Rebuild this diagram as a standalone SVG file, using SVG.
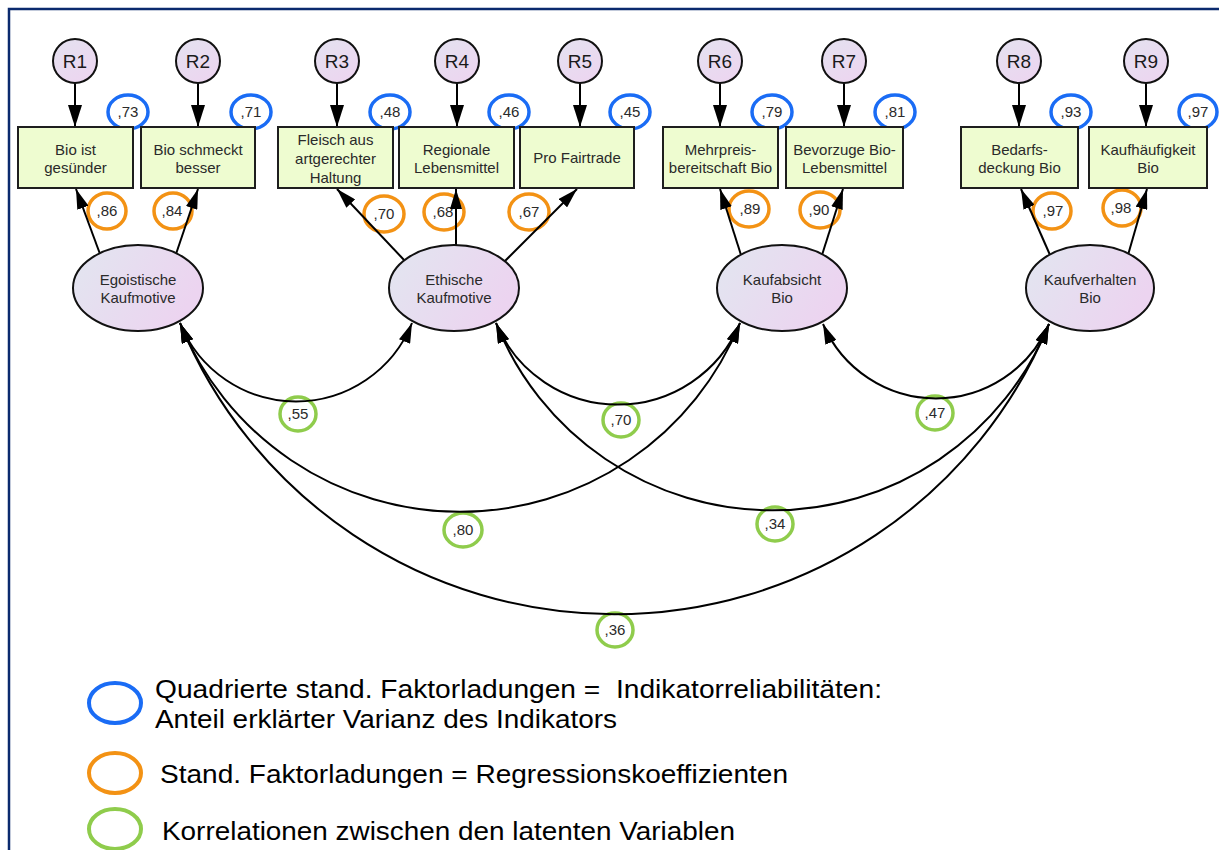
<svg xmlns="http://www.w3.org/2000/svg" width="1219" height="850" viewBox="0 0 1219 850">
  <style>
    .box { fill: #eefcd0; stroke: #1e1e1e; stroke-width: 2; }
    .resid { fill: url(#gResid); stroke: #111; stroke-width: 2; }
    .latent { fill: url(#gLatent); stroke: #111; stroke-width: 2; }
    .lbl { font-family: "Liberation Sans", Arial, sans-serif; font-size: 15px; fill: #2a2a2a; text-anchor: middle; }
    .rlbl { font-family: "Liberation Sans", Arial, sans-serif; font-size: 19px; fill: #1a1a1a; text-anchor: middle; }
    .val { font-family: "Liberation Sans", Arial, sans-serif; font-size: 15px; fill: #2a2a2a; text-anchor: middle; }
    .rel { fill: none; stroke: #1a6cf5; stroke-width: 3.5; }
    .load { fill: none; stroke: #f39214; stroke-width: 3.5; }
    .cor { fill: none; stroke: #8fcc4c; stroke-width: 3.5; }
    .edge { fill: none; stroke: #000; stroke-width: 2; }
    .legend { font-family: "Liberation Sans", Arial, sans-serif; font-size: 25px; fill: #000; white-space: pre; }
  </style>
  <defs>
    <linearGradient id="gLatent" x1="0" y1="0" x2="1" y2="0.4">
      <stop offset="0" stop-color="#e2e6f0"/>
      <stop offset="1" stop-color="#ecd4f0"/>
    </linearGradient>
    <linearGradient id="gResid" x1="0" y1="0" x2="0.6" y2="1">
      <stop offset="0" stop-color="#e4e2f0"/>
      <stop offset="1" stop-color="#ecd6f0"/>
    </linearGradient>
    <marker id="ah" viewBox="0 0 20 12" refX="20" refY="6" markerWidth="20" markerHeight="12" orient="auto-start-reverse" markerUnits="userSpaceOnUse">
      <path d="M0,0 L20,6 L0,12 z" fill="#000"/>
    </marker>
    <marker id="ahR" viewBox="0 0 22 14" refX="22" refY="7" markerWidth="22" markerHeight="14" orient="auto" markerUnits="userSpaceOnUse">
      <path d="M0,0 L22,7 L0,14 z" fill="#000"/>
    </marker>
  </defs>

  <rect width="1219" height="850" fill="#fff"/>
  <!-- frame -->
  <path d="M9,850 V9 H1219" fill="none" stroke="#0b2a6e" stroke-width="2.5"/>

  <!-- coefficient rings -->
  <g id="reliabilities">
    <ellipse class="rel" cx="128" cy="112" rx="20" ry="17"/><text class="val" x="128" y="117">,73</text>
    <ellipse class="rel" cx="251" cy="112" rx="20" ry="17"/><text class="val" x="251" y="117">,71</text>
    <ellipse class="rel" cx="390" cy="112" rx="20" ry="17"/><text class="val" x="390" y="117">,48</text>
    <ellipse class="rel" cx="509" cy="112" rx="20" ry="17"/><text class="val" x="509" y="117">,46</text>
    <ellipse class="rel" cx="630" cy="112" rx="20" ry="17"/><text class="val" x="630" y="117">,45</text>
    <ellipse class="rel" cx="772" cy="112" rx="20" ry="17"/><text class="val" x="772" y="117">,79</text>
    <ellipse class="rel" cx="895" cy="112" rx="20" ry="17"/><text class="val" x="895" y="117">,81</text>
    <ellipse class="rel" cx="1071" cy="112" rx="20" ry="17"/><text class="val" x="1071" y="117">,93</text>
    <ellipse class="rel" cx="1198" cy="112" rx="19" ry="17"/><text class="val" x="1198" y="117">,97</text>
  </g>
  <g id="loadings">
    <ellipse class="load" cx="107" cy="211" rx="19" ry="18"/><text class="val" x="107" y="216">,86</text>
    <ellipse class="load" cx="173" cy="211" rx="19" ry="18"/><text class="val" x="172" y="216">,84</text>
    <ellipse class="load" cx="384" cy="214" rx="20" ry="18"/><text class="val" x="384" y="219">,70</text>
    <ellipse class="load" cx="444" cy="212" rx="20" ry="18"/><text class="val" x="443" y="217">,68</text>
    <ellipse class="load" cx="529" cy="212" rx="20" ry="18"/><text class="val" x="529" y="217">,67</text>
    <ellipse class="load" cx="749" cy="209" rx="20" ry="18"/><text class="val" x="750" y="214">,89</text>
    <ellipse class="load" cx="820" cy="210" rx="20" ry="18"/><text class="val" x="819" y="215">,90</text>
    <ellipse class="load" cx="1052" cy="211" rx="19" ry="18"/><text class="val" x="1053" y="216">,97</text>
    <ellipse class="load" cx="1122" cy="208" rx="19" ry="18"/><text class="val" x="1121" y="213">,98</text>
  </g>
  <g id="correlations">
    <ellipse class="cor" cx="298" cy="414" rx="18" ry="17"/><text class="val" x="298" y="419">,55</text>
    <ellipse class="cor" cx="621" cy="420" rx="18" ry="17"/><text class="val" x="621" y="425">,70</text>
    <ellipse class="cor" cx="935" cy="413" rx="18" ry="17"/><text class="val" x="935" y="418">,47</text>
    <ellipse class="cor" cx="463" cy="530" rx="19" ry="17"/><text class="val" x="463" y="535">,80</text>
    <ellipse class="cor" cx="775" cy="524" rx="18" ry="17"/><text class="val" x="775" y="529">,34</text>
    <ellipse class="cor" cx="615" cy="630" rx="18" ry="17"/><text class="val" x="615" y="635">,36</text>
  </g>

  <!-- connectors -->
  <g id="connectors">
    <!-- residual to indicator -->
    <path class="edge" d="M75,83 V127" marker-end="url(#ahR)"/>
    <path class="edge" d="M198,83 V127" marker-end="url(#ahR)"/>
    <path class="edge" d="M337,83 V127" marker-end="url(#ahR)"/>
    <path class="edge" d="M457,83 V127" marker-end="url(#ahR)"/>
    <path class="edge" d="M580,83 V127" marker-end="url(#ahR)"/>
    <path class="edge" d="M720,83 V127" marker-end="url(#ahR)"/>
    <path class="edge" d="M844,83 V127" marker-end="url(#ahR)"/>
    <path class="edge" d="M1019,83 V127" marker-end="url(#ahR)"/>
    <path class="edge" d="M1146,83 V127" marker-end="url(#ahR)"/>
    <!-- factor to indicator -->
    <path class="edge" d="M100,254 L76,189" marker-end="url(#ah)"/>
    <path class="edge" d="M176,254 L198,189" marker-end="url(#ah)"/>
    <path class="edge" d="M405,261 L337,189" marker-end="url(#ah)"/>
    <path class="edge" d="M456,246 L456,189" marker-end="url(#ah)"/>
    <path class="edge" d="M505,261 L577,189" marker-end="url(#ah)"/>
    <path class="edge" d="M741,255 L720,189" marker-end="url(#ah)"/>
    <path class="edge" d="M822,255 L843,189" marker-end="url(#ah)"/>
    <path class="edge" d="M1050,255 L1021,189" marker-end="url(#ah)"/>
    <path class="edge" d="M1128,255 L1147,189" marker-end="url(#ah)"/>
    <!-- covariances between factors -->
    <path class="edge" d="M180,323 A125,125 0 0 0 412,323" marker-start="url(#ah)" marker-end="url(#ah)"/>
    <path class="edge" d="M496,323 A132,132 0 0 0 740,323" marker-start="url(#ah)" marker-end="url(#ah)"/>
    <path class="edge" d="M823,324 A123,123 0 0 0 1049,324" marker-start="url(#ah)" marker-end="url(#ah)"/>
    <path class="edge" d="M180,323 A302,302 0 0 0 740,323" marker-start="url(#ah)" marker-end="url(#ah)"/>
    <path class="edge" d="M496,323 A298,298 0 0 0 1049,324" marker-start="url(#ah)" marker-end="url(#ah)"/>
    <path class="edge" d="M180,323 A470,470 0 0 0 1049,324" marker-start="url(#ah)" marker-end="url(#ah)"/>
  </g>

  <!-- residuals -->
  <g id="R1"><circle class="resid" cx="75" cy="61" r="22"/><text class="rlbl" x="75" y="68">R1</text></g>
  <g id="R2"><circle class="resid" cx="198" cy="61" r="22"/><text class="rlbl" x="198" y="68">R2</text></g>
  <g id="R3"><circle class="resid" cx="337" cy="61" r="22"/><text class="rlbl" x="337" y="68">R3</text></g>
  <g id="R4"><circle class="resid" cx="457" cy="61" r="22"/><text class="rlbl" x="457" y="68">R4</text></g>
  <g id="R5"><circle class="resid" cx="580" cy="61" r="22"/><text class="rlbl" x="580" y="68">R5</text></g>
  <g id="R6"><circle class="resid" cx="720" cy="61" r="22"/><text class="rlbl" x="720" y="68">R6</text></g>
  <g id="R7"><circle class="resid" cx="844" cy="61" r="22"/><text class="rlbl" x="844" y="68">R7</text></g>
  <g id="R8"><circle class="resid" cx="1019" cy="61" r="22"/><text class="rlbl" x="1019" y="68">R8</text></g>
  <g id="R9"><circle class="resid" cx="1146" cy="61" r="22"/><text class="rlbl" x="1146" y="68">R9</text></g>

  <!-- indicators -->
  <g id="ind1"><rect class="box" x="18" y="127" width="115" height="61"/>
    <text class="lbl" x="75.5" y="155">Bio ist</text><text class="lbl" x="75.5" y="173">gesünder</text></g>
  <g id="ind2"><rect class="box" x="141" y="127" width="114" height="61"/>
    <text class="lbl" x="198" y="155">Bio schmeckt</text><text class="lbl" x="198" y="173">besser</text></g>
  <g id="ind3"><rect class="box" x="278" y="127" width="115" height="61"/>
    <text class="lbl" x="335.5" y="145">Fleisch aus</text><text class="lbl" x="335.5" y="164">artgerechter</text><text class="lbl" x="335.5" y="183">Haltung</text></g>
  <g id="ind4"><rect class="box" x="399" y="127" width="115" height="61"/>
    <text class="lbl" x="456.5" y="155">Regionale</text><text class="lbl" x="456.5" y="173">Lebensmittel</text></g>
  <g id="ind5"><rect class="box" x="520" y="127" width="114" height="61"/>
    <text class="lbl" x="577" y="163">Pro Fairtrade</text></g>
  <g id="ind6"><rect class="box" x="663" y="127" width="115" height="61"/>
    <text class="lbl" x="720.5" y="155">Mehrpreis-</text><text class="lbl" x="720.5" y="173">bereitschaft Bio</text></g>
  <g id="ind7"><rect class="box" x="786" y="127" width="117" height="61"/>
    <text class="lbl" x="844.5" y="155">Bevorzuge Bio-</text><text class="lbl" x="844.5" y="173">Lebensmittel</text></g>
  <g id="ind8"><rect class="box" x="961" y="127" width="117" height="61"/>
    <text class="lbl" x="1019.5" y="155">Bedarfs-</text><text class="lbl" x="1019.5" y="173">deckung Bio</text></g>
  <g id="ind9"><rect class="box" x="1089" y="127" width="118" height="61"/>
    <text class="lbl" x="1148" y="155">Kaufhäufigkeit</text><text class="lbl" x="1148" y="173">Bio</text></g>

  <!-- latent factors -->
  <g id="egoistisch"><ellipse class="latent" cx="138" cy="288" rx="65" ry="43"/>
    <text class="lbl" x="138" y="285">Egoistische</text><text class="lbl" x="138" y="303">Kaufmotive</text></g>
  <g id="ethisch"><ellipse class="latent" cx="454" cy="288" rx="65" ry="43"/>
    <text class="lbl" x="454" y="285">Ethische</text><text class="lbl" x="454" y="303">Kaufmotive</text></g>
  <g id="kaufabsicht"><ellipse class="latent" cx="782" cy="288" rx="65" ry="43"/>
    <text class="lbl" x="782" y="285">Kaufabsicht</text><text class="lbl" x="782" y="303">Bio</text></g>
  <g id="kaufverhalten"><ellipse class="latent" cx="1090" cy="288" rx="64" ry="43"/>
    <text class="lbl" x="1090" y="285">Kaufverhalten</text><text class="lbl" x="1090" y="303">Bio</text></g>

  <!-- legend -->
  <g id="legend">
    <ellipse cx="115" cy="703" rx="26" ry="20" fill="none" stroke="#1a6cf5" stroke-width="4"/>
    <ellipse cx="115" cy="773" rx="26" ry="20" fill="none" stroke="#f39214" stroke-width="4"/>
    <ellipse cx="115" cy="829" rx="26" ry="20" fill="none" stroke="#8fcc4c" stroke-width="4"/>
    <text class="legend" x="155" y="698" textLength="727" lengthAdjust="spacingAndGlyphs">Quadrierte stand. Faktorladungen =  Indikatorreliabilitäten:</text>
    <text class="legend" x="155" y="728" textLength="462" lengthAdjust="spacingAndGlyphs">Anteil erklärter Varianz des Indikators</text>
    <text class="legend" x="160" y="783" textLength="628" lengthAdjust="spacingAndGlyphs">Stand. Faktorladungen = Regressionskoeffizienten</text>
    <text class="legend" x="162" y="840" textLength="573" lengthAdjust="spacingAndGlyphs">Korrelationen zwischen den latenten Variablen</text>
  </g>
</svg>
